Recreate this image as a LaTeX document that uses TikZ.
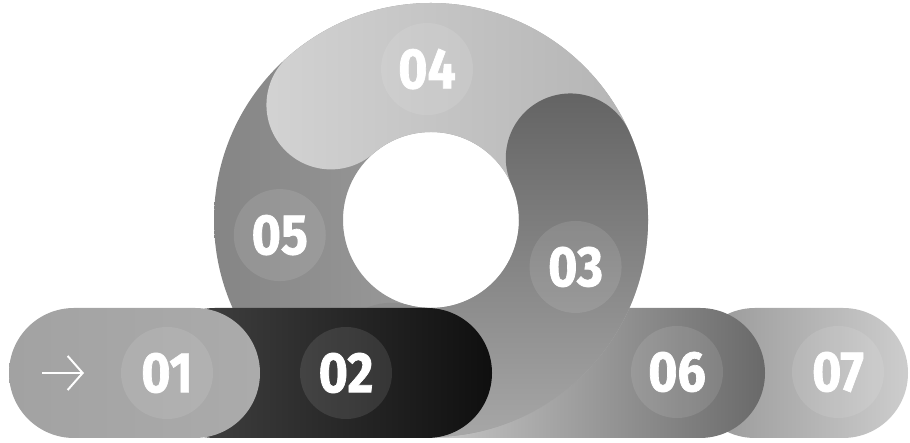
\documentclass[tikz,border=0pt]{standalone}
\usepackage{fontspec}
\newfontfamily\numfont[FakeStretch=0.88, BoldFeatures={FakeBold=1.2}]{Fira Sans}
\usetikzlibrary{arrows.meta, calc}
\definecolor{stepA1}{HTML}{A2A2A2}
\definecolor{stepA2}{HTML}{ABABAB}
\definecolor{stepB1}{HTML}{474747}
\definecolor{stepB2}{HTML}{0F0F0F}
\definecolor{stepC1}{HTML}{626262}
\definecolor{stepC2}{HTML}{A8A8A8}
\definecolor{stepD1}{HTML}{D3D3D3}
\definecolor{stepD2}{HTML}{B3B3B3}
\definecolor{stepE1}{HTML}{858585}
\definecolor{stepE2}{HTML}{B0B0B0}
\definecolor{stepF1}{HTML}{E3E3E3}
\definecolor{stepF2}{HTML}{696969}
\definecolor{stepG1}{HTML}{949494}
\definecolor{stepG2}{HTML}{CDCDCD}
\tikzset{
  pill/.style      = {rounded corners=65pt},
  numdisc/.style   = {circle, minimum size=92pt, inner sep=0pt, fill=white,
                      fill opacity=0.1, text opacity=1, text=white,
                      font=\numfont\bfseries\fontsize{57}{57}\selectfont},
  arrowline/.style = {-{Straight Barb[length=15pt, width=34pt]}, white,
                      line width=2pt},
}
\begin{document}
\begin{tikzpicture}[x=1pt, y=1pt]
  \useasboundingbox (0,0) rectangle (910,443);
  \coordinate (ctr) at (431,223);
  % bars behind the ring
  \shade[pill, left color=stepG1, right color=stepG2] (690,5) rectangle (908,135);
  \shade[pill, left color=stepF1, right color=stepF2] (330,5) rectangle (765,135);
  % ring, then its two bands
  \shade[even odd rule, left color=stepE1, right color=stepE2]
    (ctr) circle[radius=217] (ctr) circle[radius=88];
  \shade[left color=stepD1, right color=stepD2]
    ($(ctr)+(131:217)$) arc[start angle=131, end angle=0, radius=217]
    arc[start angle=0, end angle=-180, radius=64.5]
    arc[start angle=0, end angle=131, radius=88]
    arc[start angle=311, end angle=131, radius=64.5] -- cycle;
  \shade[top color=stepC1, bottom color=stepC2]
    ($(ctr)+(24:217)$) arc[start angle=24, end angle=-105, radius=217]
    arc[start angle=-105, end angle=-285, radius=64.5]
    arc[start angle=-105, end angle=24, radius=88]
    arc[start angle=204, end angle=24, radius=64.5] -- cycle;
  % bars in front
  \shade[pill, left color=stepB1, right color=stepB2] (150,5) rectangle (492,135);
  \shade[pill, left color=stepA1, right color=stepA2] (9,5) rectangle (260,135);
  % arrow
  \coordinate (arrTail) at (42,70);
  \coordinate (arrHead) at (84,70);
  \draw[arrowline] (arrTail) -- (arrHead);
  % numbers
  \node[numdisc] (n01) at (167,70) {01};
  \node[numdisc] (n02) at (346,70) {02};
  \node[numdisc] (n03) at ($(ctr)+(-18:152)$) {03};
  \node[numdisc] (n04) at ($(ctr)+(91.5:151)$) {04};
  \node[numdisc] (n05) at ($(ctr)+(185.7:152)$) {05};
  \node[numdisc] (n06) at (677,71) {06};
  \node[numdisc] (n07) at (838,71) {07};
\end{tikzpicture}
\end{document}
